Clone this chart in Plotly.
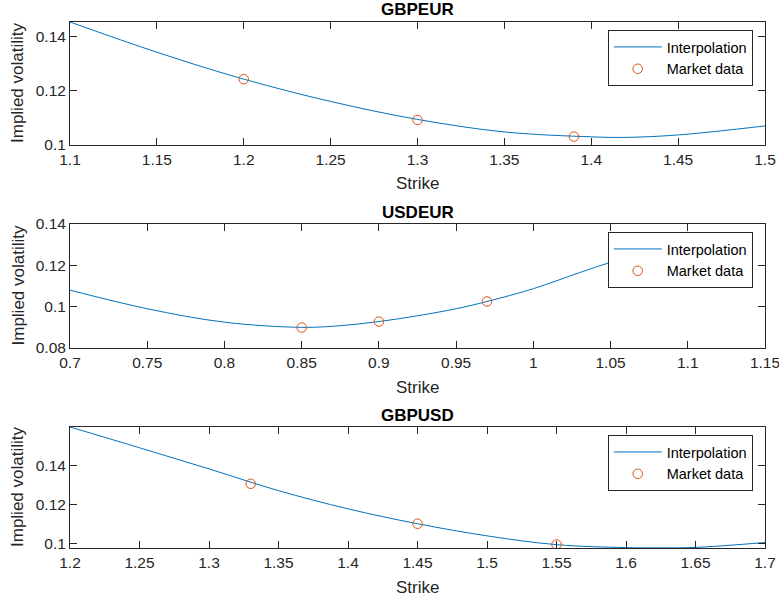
import plotly.graph_objects as go

# ---------------- data ----------------
gbpeur_curve_strike = [1.10, 1.15, 1.20, 1.25, 1.30, 1.35, 1.40, 1.42, 1.45, 1.50]
gbpeur_curve_vol = [0.1452, 0.1341, 0.1242, 0.1160, 0.1094, 0.1048, 0.1030, 0.1028, 0.1037, 0.1070]
gbpeur_mkt_strike = [1.20, 1.30, 1.39]
gbpeur_mkt_vol = [0.1242, 0.1092, 0.1031]

usdeur_curve_strike = [0.70, 0.75, 0.80, 0.85, 0.875, 0.90, 0.925, 0.95, 0.97, 1.00, 1.03, 1.05, 1.10]
usdeur_curve_vol = [0.1080, 0.0990, 0.0925, 0.0900, 0.0908, 0.0928, 0.0956, 0.0990, 0.1025, 0.1087, 0.1165, 0.1215, 0.1340]
usdeur_mkt_strike = [0.85, 0.90, 0.97]
usdeur_mkt_vol = [0.0899, 0.0928, 0.1025]

gbpusd_curve_strike = [1.20, 1.25, 1.30, 1.35, 1.40, 1.45, 1.50, 1.55, 1.60, 1.625, 1.65, 1.70]
gbpusd_curve_vol = [0.1595, 0.1489, 0.1381, 0.1270, 0.1177, 0.1101, 0.1039, 0.0994, 0.0979, 0.0978, 0.0980, 0.1005]
gbpusd_mkt_strike = [1.33, 1.45, 1.55]
gbpusd_mkt_vol = [0.1305, 0.1101, 0.0995]

titles = ["GBPEUR", "USDEUR", "GBPUSD"]

x_ticks_1 = [1.1, 1.15, 1.2, 1.25, 1.3, 1.35, 1.4, 1.45, 1.5]
x_ticktext_1 = ["1.1", "1.15", "1.2", "1.25", "1.3", "1.35", "1.4", "1.45", "1.5"]
x_ticks_2 = [0.7, 0.75, 0.8, 0.85, 0.9, 0.95, 1.0, 1.05, 1.1, 1.15]
x_ticktext_2 = ["0.7", "0.75", "0.8", "0.85", "0.9", "0.95", "1", "1.05", "1.1", "1.15"]
x_ticks_3 = [1.2, 1.25, 1.3, 1.35, 1.4, 1.45, 1.5, 1.55, 1.6, 1.65, 1.7]
x_ticktext_3 = ["1.2", "1.25", "1.3", "1.35", "1.4", "1.45", "1.5", "1.55", "1.6", "1.65", "1.7"]

y_ticks_1 = [0.1, 0.12, 0.14]
y_ticktext_1 = ["0.1", "0.12", "0.14"]
y_ticks_2 = [0.08, 0.1, 0.12, 0.14]
y_ticktext_2 = ["0.08", "0.1", "0.12", "0.14"]
y_ticks_3 = [0.1, 0.12, 0.14]
y_ticktext_3 = ["0.1", "0.12", "0.14"]

# ---------------- layout geometry ----------------
FW, FH = 779, 601
FONT = "Liberation Sans, Arial, Helvetica, sans-serif"
AX = "#262626"
BLUE = "#0072BD"
ORANGE = "#D95319"


def xp(px):
    return px / FW


def yp(py):
    return 1 - py / FH


x_dom = [xp(70), xp(765)]
panels_px = [(22, 145), (224, 348), (427, 548)]  # (top, bottom) in page pixels
y_doms = [[yp(b), yp(t)] for (t, b) in panels_px]

x_ranges = [[1.1, 1.5000001], [0.7, 1.1500001], [1.2, 1.7000001]]
y_ranges = [[0.1, 0.1452], [0.08, 0.14], [0.0977, 0.1595]]

curves = [
    (gbpeur_curve_strike, gbpeur_curve_vol, gbpeur_mkt_strike, gbpeur_mkt_vol),
    (usdeur_curve_strike, usdeur_curve_vol, usdeur_mkt_strike, usdeur_mkt_vol),
    (gbpusd_curve_strike, gbpusd_curve_vol, gbpusd_mkt_strike, gbpusd_mkt_vol),
]
xticks = [(x_ticks_1, x_ticktext_1), (x_ticks_2, x_ticktext_2), (x_ticks_3, x_ticktext_3)]
yticks = [(y_ticks_1, y_ticktext_1), (y_ticks_2, y_ticktext_2), (y_ticks_3, y_ticktext_3)]

fig = go.Figure()
layout = dict(
    width=FW, height=FH,
    margin=dict(l=0, r=0, t=0, b=0),
    paper_bgcolor="white", plot_bgcolor="white",
    font=dict(family=FONT, color=AX),
    annotations=[],
    showlegend=True,
)

for i in range(3):
    sfx = "" if i == 0 else str(i + 1)
    xa, ya = "x" + sfx, "y" + sfx
    leg = "legend" + sfx
    cs, cv, ms, mv = curves[i]
    fig.add_trace(go.Scatter(
        x=cs, y=cv, mode="lines", name="Interpolation",
        line=dict(color=BLUE, width=1, shape="spline", smoothing=1.0),
        xaxis=xa, yaxis=ya, legend=leg, hoverinfo="skip",
    ))
    fig.add_trace(go.Scatter(
        x=ms, y=mv, mode="markers", name="Market data",
        marker=dict(symbol="circle-open", color=ORANGE, size=9.5, line=dict(width=1, color=ORANGE)),
        xaxis=xa, yaxis=ya, legend=leg, hoverinfo="skip",
    ))
    common = dict(
        showline=True, linecolor=AX, linewidth=1, mirror="ticks",
        ticks="inside", ticklen=7, tickwidth=1, tickcolor=AX,
        showgrid=False, zeroline=False, automargin=False,
        tickfont=dict(family=FONT, size=15.5, color=AX),
        ticklabeloverflow="allow",
    )
    layout["xaxis" + sfx] = dict(
        domain=x_dom, range=x_ranges[i], anchor=ya,
        tickmode="array", tickvals=xticks[i][0], ticktext=xticks[i][1],
        **common,
    )
    layout["yaxis" + sfx] = dict(
        domain=y_doms[i], range=y_ranges[i], anchor=xa,
        tickmode="array", tickvals=yticks[i][0], ticktext=yticks[i][1],
        ticklabelstandoff=0,
        **common,
    )
    top_px, bot_px = panels_px[i]
    layout[leg] = dict(
        x=xp(752.7), xanchor="right",
        y=yp(top_px + 8), yanchor="top",
        bgcolor="white", bordercolor=AX, borderwidth=1,
        font=dict(family=FONT, size=14.5, color="#000000"),
        itemwidth=48, tracegroupgap=0,
    )
    # panel title
    layout["annotations"].append(dict(
        text="<b>" + titles[i] + "</b>", x=(x_dom[0] + x_dom[1]) / 2, xref="paper",
        y=yp(top_px - 12), yref="paper", showarrow=False,
        xanchor="center", yanchor="middle",
        font=dict(family=FONT, size=17, color="#000000"),
    ))
    # x-axis label
    layout["annotations"].append(dict(
        text="Strike", x=(x_dom[0] + x_dom[1]) / 2, xref="paper",
        y=yp(bot_px + 39), yref="paper", showarrow=False,
        xanchor="center", yanchor="middle",
        font=dict(family=FONT, size=17, color=AX),
    ))
    # y-axis label
    layout["annotations"].append(dict(
        text="Implied volatility", x=xp(17.5), xref="paper",
        y=yp((top_px + bot_px) / 2), yref="paper", showarrow=False,
        textangle=-90, xanchor="center", yanchor="middle",
        font=dict(family=FONT, size=17, color=AX),
    ))

fig.update_layout(**layout)
fig.write_html(
    "out.html",
    config={"displayModeBar": False},
    post_script="document.body.style.margin='0';document.body.style.overflow='hidden';",
)
